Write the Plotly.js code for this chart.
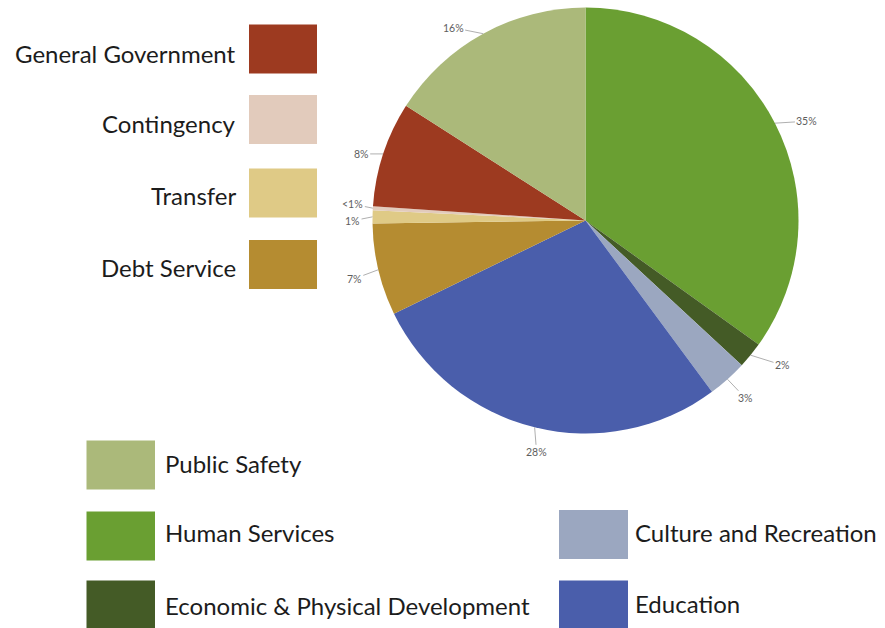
<!DOCTYPE html>
<html>
<head>
<meta charset="utf-8">
<script src="https://cdn.plot.ly/plotly-3.0.1.min.js"></script>
<style>html,body{margin:0;padding:0;background:#fff;}#chart{width:885px;height:628px;}</style>
</head>
<body>
<div id="chart"></div>
<script>
// ---- data (clockwise from 12 o'clock) ----
const categories = ["Human Services", "Economic & Physical Development", "Culture and Recreation", "Education", "Debt Service", "Transfer", "Contingency", "General Government", "Public Safety"];
const values = [35, 2, 3, 28, 7, 1, 0.3, 8, 16];
const valueLabels = ["35%", "2%", "3%", "28%", "7%", "1%", "<1%", "8%", "16%"];
const colors = ["#6a9f32", "#445b26", "#9ba7c0", "#4a5eab", "#b58c31", "#dfca86", "#e2cbbc", "#9d3a20", "#abb97a"];

// legend groups (names from categories)
const leftLegend = ["General Government", "Contingency", "Transfer", "Debt Service"];
const bottomLegendCol1 = ["Public Safety", "Human Services", "Economic & Physical Development"];
const bottomLegendCol2 = ["Culture and Recreation", "Education"];

// ---- layout helpers (pixel -> paper) ----
const W = 885, H = 628;
const px = x => x / W;
const py = y => 1 - y / H;
const cx = 585.5, cy = 220.5, R = 213;

// label offsets (pixels, from the edge point at mid-angle)
const labelOffsets = [[32, -2], [32, 10], [18, 19], [2, 25], [-24, 9], [-20, 4], [-20, -4], [-22, 0], [-30, -6]];

const total = values.reduce((a, b) => a + b, 0);
const annotations = [];
let cum = 0;
values.forEach((v, i) => {
  const mid = (cum + v / 2) / total * 2 * Math.PI;
  cum += v;
  const ex = cx + R * Math.sin(mid), ey = cy - R * Math.cos(mid);
  annotations.push({
    x: px(ex), y: py(ey), xref: 'paper', yref: 'paper',
    text: valueLabels[i], showarrow: true, arrowhead: 0, arrowwidth: 0.8, arrowcolor: '#9a9a9a',
    ax: labelOffsets[i][0], ay: labelOffsets[i][1],
    font: {family: 'Lato, sans-serif', size: 10.5, color: '#5e5e5e'}
  });
});

const shapes = [];
const colorOf = name => colors[categories.indexOf(name)];
const legendFont = {family: 'Lato, sans-serif', size: 24, color: '#1c1c1c'};

// left legend: text right, box
const leftRowsY = [49, 119.5, 193, 264.5];
const leftTextY = [53, 124, 196, 267];
leftLegend.forEach((name, i) => {
  const yc = leftRowsY[i];
  shapes.push({type: 'rect', xref: 'paper', yref: 'paper', x0: px(249), x1: px(317), y0: py(yc - 24.5), y1: py(yc + 24.5), fillcolor: colorOf(name), line: {width: 0}});
  annotations.push({x: px(238), y: py(leftTextY[i]), xref: 'paper', yref: 'paper', xanchor: 'right', yanchor: 'middle', text: name, showarrow: false, font: legendFont});
});

// bottom legend
const col1Y = [465, 536, 605];
const col1TextY = [464, 532, 605];
bottomLegendCol1.forEach((name, i) => {
  const yc = col1Y[i];
  shapes.push({type: 'rect', xref: 'paper', yref: 'paper', x0: px(86.5), x1: px(155), y0: py(yc - 24.5), y1: py(yc + 24.5), fillcolor: colorOf(name), line: {width: 0}});
  annotations.push({x: px(163), y: py(col1TextY[i]), xref: 'paper', yref: 'paper', xanchor: 'left', yanchor: 'middle', text: name, showarrow: false, font: legendFont});
});
const col2Y = [534.5, 605];
const col2TextY = [532, 603];
bottomLegendCol2.forEach((name, i) => {
  const yc = col2Y[i];
  shapes.push({type: 'rect', xref: 'paper', yref: 'paper', x0: px(559), x1: px(628), y0: py(yc - 24.5), y1: py(yc + 24.5), fillcolor: colorOf(name), line: {width: 0}});
  annotations.push({x: px(633), y: py(col2TextY[i]), xref: 'paper', yref: 'paper', xanchor: 'left', yanchor: 'middle', text: name, showarrow: false, font: legendFont});
});

const trace = {
  type: 'pie',
  labels: categories,
  values: values,
  sort: false,
  direction: 'clockwise',
  rotation: 0,
  marker: {colors: colors, line: {width: 0}},
  textinfo: 'none',
  hoverinfo: 'label+percent',
  domain: {x: [px(cx - R), px(cx + R)], y: [py(cy + R), py(cy - R)]}
};

const layout = {
  width: W, height: H,
  margin: {l: 0, r: 0, t: 0, b: 0},
  paper_bgcolor: '#fff',
  showlegend: false,
  shapes: shapes,
  annotations: annotations
};

Plotly.newPlot('chart', [trace], layout, {displayModeBar: false, staticPlot: true});
</script>
</body>
</html>
